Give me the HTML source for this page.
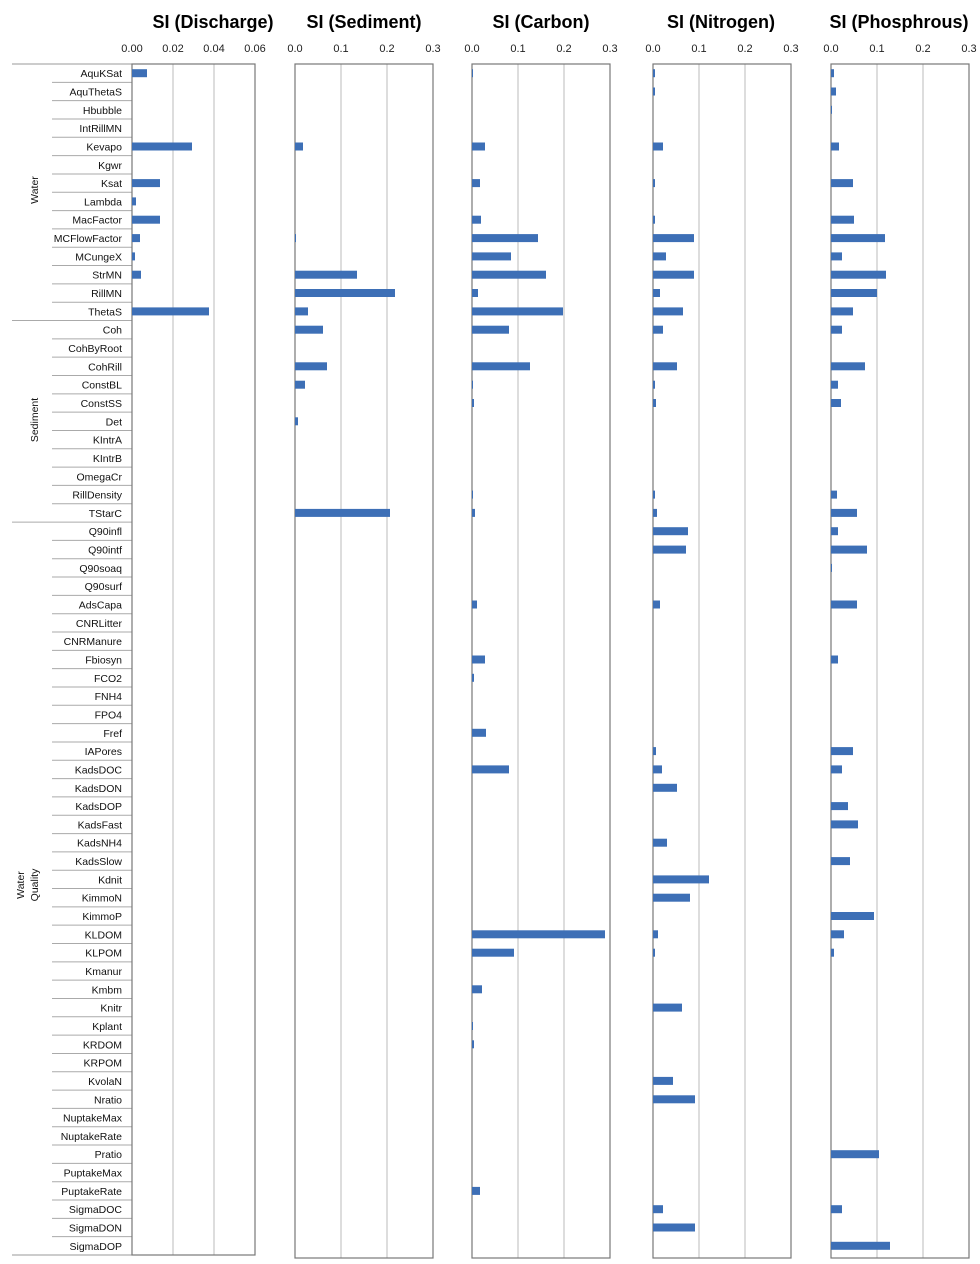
<!DOCTYPE html>
<html><head><meta charset="utf-8"><style>
html,body{margin:0;padding:0;background:#fff;}
svg{display:block;font-family:"Liberation Sans",sans-serif;}
.t{font-weight:bold;font-size:18px;text-anchor:middle;fill:#000}
.k{font-size:11px;text-anchor:middle;fill:#222}
.l{font-size:10.5px;text-anchor:end;fill:#111}
.g{font-size:10.5px;text-anchor:middle;fill:#111}
</style></head><body>
<svg id="s" width="980" height="1264" viewBox="0 0 980 1264">
<g id="grid"></g>
<g id="bars"></g>
<text class="t" x="213" y="28">SI (Discharge)</text>
<text class="t" x="364" y="28">SI (Sediment)</text>
<text class="t" x="541" y="28">SI (Carbon)</text>
<text class="t" x="721" y="28">SI (Nitrogen)</text>
<text class="t" x="899" y="28">SI (Phosphrous)</text>
<text class="k" x="132" y="52">0.00</text><text class="k" x="173" y="52">0.02</text><text class="k" x="214" y="52">0.04</text><text class="k" x="255" y="52">0.06</text>
<text class="k" x="295" y="52">0.0</text><text class="k" x="341" y="52">0.1</text><text class="k" x="387" y="52">0.2</text><text class="k" x="433" y="52">0.3</text>
<text class="k" x="472" y="52">0.0</text><text class="k" x="518" y="52">0.1</text><text class="k" x="564" y="52">0.2</text><text class="k" x="610" y="52">0.3</text>
<text class="k" x="653" y="52">0.0</text><text class="k" x="699" y="52">0.1</text><text class="k" x="745" y="52">0.2</text><text class="k" x="791" y="52">0.3</text>
<text class="k" x="831" y="52">0.0</text><text class="k" x="877" y="52">0.1</text><text class="k" x="923" y="52">0.2</text><text class="k" x="969" y="52">0.3</text>
<text class="g" transform="translate(38,190) rotate(-90)">Water</text>
<text class="g" transform="translate(38,420) rotate(-90)">Sediment</text>
<text class="g" transform="translate(24,885) rotate(-90)">Water</text>
<text class="g" transform="translate(38,885) rotate(-90)">Quality</text>
<g id="labels">
<text class="l" x="122" y="77">AquKSat</text>
<text class="l" x="122" y="95">AquThetaS</text>
<text class="l" x="122" y="113">Hbubble</text>
<text class="l" x="122" y="131">IntRillMN</text>
<text class="l" x="122" y="149">Kevapo</text>
<text class="l" x="122" y="167">Kgwr</text>
<text class="l" x="122" y="185">Ksat</text>
<text class="l" x="122" y="203">Lambda</text>
<text class="l" x="122" y="221">MacFactor</text>
<text class="l" x="122" y="239">MCFlowFactor</text>
<text class="l" x="122" y="257">MCungeX</text>
<text class="l" x="122" y="275">StrMN</text>
<text class="l" x="122" y="293">RillMN</text>
<text class="l" x="122" y="311">ThetaS</text>
<text class="l" x="122" y="329">Coh</text>
<text class="l" x="122" y="348">CohByRoot</text>
<text class="l" x="122" y="366">CohRill</text>
<text class="l" x="122" y="384">ConstBL</text>
<text class="l" x="122" y="402">ConstSS</text>
<text class="l" x="122" y="420">Det</text>
<text class="l" x="122" y="438">KIntrA</text>
<text class="l" x="122" y="456">KIntrB</text>
<text class="l" x="122" y="474">OmegaCr</text>
<text class="l" x="122" y="492">RillDensity</text>
<text class="l" x="122" y="510">TStarC</text>
<text class="l" x="122" y="528">Q90infl</text>
<text class="l" x="122" y="546">Q90intf</text>
<text class="l" x="122" y="564">Q90soaq</text>
<text class="l" x="122" y="582">Q90surf</text>
<text class="l" x="122" y="600">AdsCapa</text>
<text class="l" x="122" y="618">CNRLitter</text>
<text class="l" x="122" y="636">CNRManure</text>
<text class="l" x="122" y="654">Fbiosyn</text>
<text class="l" x="122" y="672">FCO2</text>
<text class="l" x="122" y="690">FNH4</text>
<text class="l" x="122" y="708">FPO4</text>
<text class="l" x="122" y="727">Fref</text>
<text class="l" x="122" y="745">IAPores</text>
<text class="l" x="122" y="763">KadsDOC</text>
<text class="l" x="122" y="781">KadsDON</text>
<text class="l" x="122" y="799">KadsDOP</text>
<text class="l" x="122" y="817">KadsFast</text>
<text class="l" x="122" y="835">KadsNH4</text>
<text class="l" x="122" y="853">KadsSlow</text>
<text class="l" x="122" y="871">Kdnit</text>
<text class="l" x="122" y="889">KimmoN</text>
<text class="l" x="122" y="907">KimmoP</text>
<text class="l" x="122" y="925">KLDOM</text>
<text class="l" x="122" y="943">KLPOM</text>
<text class="l" x="122" y="961">Kmanur</text>
<text class="l" x="122" y="979">Kmbm</text>
<text class="l" x="122" y="997">Knitr</text>
<text class="l" x="122" y="1015">Kplant</text>
<text class="l" x="122" y="1033">KRDOM</text>
<text class="l" x="122" y="1051">KRPOM</text>
<text class="l" x="122" y="1069">KvolaN</text>
<text class="l" x="122" y="1087">Nratio</text>
<text class="l" x="122" y="1106">NuptakeMax</text>
<text class="l" x="122" y="1124">NuptakeRate</text>
<text class="l" x="122" y="1142">Pratio</text>
<text class="l" x="122" y="1160">PuptakeMax</text>
<text class="l" x="122" y="1178">PuptakeRate</text>
<text class="l" x="122" y="1196">SigmaDOC</text>
<text class="l" x="122" y="1214">SigmaDON</text>
<text class="l" x="122" y="1232">SigmaDOP</text>
</g>
</svg>
<script>
var NS="http://www.w3.org/2000/svg",grid=document.getElementById('grid'),bars=document.getElementById('bars');
function el(p,t,a){var e=document.createElementNS(NS,t);for(var k in a)e.setAttribute(k,a[k]);p.appendChild(e);return e;}
var ls=document.querySelectorAll('#labels text');
var N=ls.length;
var top0=64,bot=1255,rh=(bot-top0)/N;
ls.forEach(function(t,i){t.setAttribute('y',(top0+rh*(i+0.5)+4).toFixed(1));});
el(grid,'line',{x1:12,y1:top0,x2:132,y2:top0,stroke:'#999','stroke-width':1});
el(grid,'line',{x1:12,y1:bot,x2:132,y2:bot,stroke:'#999','stroke-width':1});
for(var i=1;i<N;i++){var y=top0+rh*i;var x1=(i==14||i==25)?12:52;el(grid,'line',{x1:x1,y1:y,x2:132,y2:y,stroke:'#aaa','stroke-width':1});}
var panels=[[132,255,1255,3],[295,433,1258,3],[472,610,1258,3],[653,791,1258,3],[831,969,1258,3]];
panels.forEach(function(p){var w=p[1]-p[0];
 for(var j=1;j<p[3];j++){var x=p[0]+w*j/p[3];el(grid,'line',{x1:x,y1:top0,x2:x,y2:p[2],stroke:'#bbb','stroke-width':1});}
 el(grid,'rect',{x:p[0],y:top0,width:w,height:p[2]-top0,fill:'none',stroke:'#777','stroke-width':1.2});
});
var names=[].map.call(ls,function(t){return t.textContent;});
var D=[{AquKSat:15,Kevapo:60,Ksat:28,Lambda:4,MacFactor:28,MCFlowFactor:8,MCungeX:3,StrMN:9,ThetaS:77},
{Kevapo:8,MCFlowFactor:1,StrMN:62,RillMN:100,ThetaS:13,Coh:28,CohRill:32,ConstBL:10,Det:3,TStarC:95},
{AquKSat:1,Kevapo:13,Ksat:8,MacFactor:9,MCFlowFactor:66,MCungeX:39,StrMN:74,RillMN:6,ThetaS:91,Coh:37,CohRill:58,ConstBL:1,ConstSS:2,RillDensity:1,TStarC:3,AdsCapa:5,Fbiosyn:13,FCO2:2,Fref:14,KadsDOC:37,KLDOM:133,KLPOM:42,Kmbm:10,Kplant:1,KRDOM:2,PuptakeRate:8},
{AquKSat:2,AquThetaS:2,Kevapo:10,Ksat:2,MacFactor:2,MCFlowFactor:41,MCungeX:13,StrMN:41,RillMN:7,ThetaS:30,Coh:10,CohRill:24,ConstBL:2,ConstSS:3,RillDensity:2,TStarC:4,Q90infl:35,Q90intf:33,AdsCapa:7,IAPores:3,KadsDOC:9,KadsDON:24,KadsNH4:14,Kdnit:56,KimmoN:37,KLDOM:5,KLPOM:2,Knitr:29,KvolaN:20,Nratio:42,SigmaDOC:10,SigmaDON:42},
{AquKSat:3,AquThetaS:5,Hbubble:1,Kevapo:8,Ksat:22,MacFactor:23,MCFlowFactor:54,MCungeX:11,StrMN:55,RillMN:46,ThetaS:22,Coh:11,CohRill:34,ConstBL:7,ConstSS:10,RillDensity:6,TStarC:26,Q90infl:7,Q90intf:36,Q90soaq:1,AdsCapa:26,Fbiosyn:7,IAPores:22,KadsDOC:11,KadsDOP:17,KadsFast:27,KadsSlow:19,KimmoP:43,KLDOM:13,KLPOM:3,Pratio:48,SigmaDOC:11,SigmaDOP:59}];
D.forEach(function(d,pi){var x0=panels[pi][0];
 names.forEach(function(n,i){var v=d[n];if(!v)return;var cy=top0+rh*(i+0.5);
  el(bars,'rect',{x:x0,y:(cy-4).toFixed(1),width:v,height:8,fill:'#3d6fb6'});});
});
</script>
</body></html>
